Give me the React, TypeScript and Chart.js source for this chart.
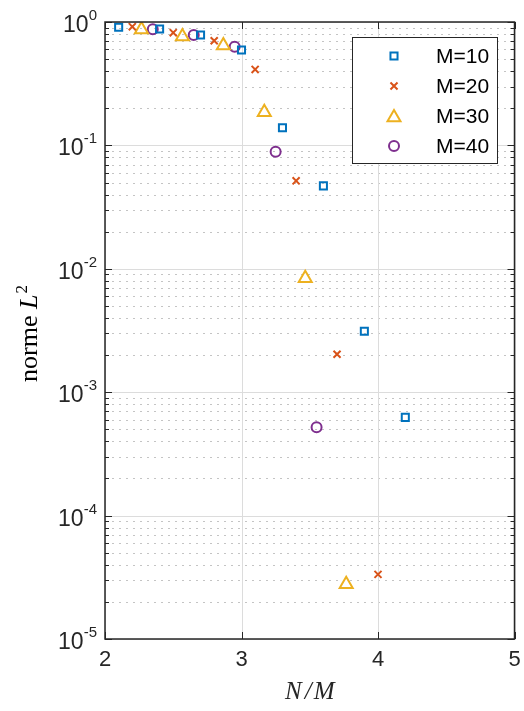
import React, { useEffect, useRef } from 'react';
import { Chart, registerables } from 'chart.js';

Chart.register(...registerables);

// N/M values and L2-norm errors for each M
const xM10 = [2.1, 2.4, 2.7, 3.0, 3.3, 3.6, 3.9, 4.2];
const yM10 = [0.906, 0.878, 0.785, 0.593, 0.139, 0.047, 0.00312, 0.000625];

const xM20 = [2.2, 2.5, 2.8, 3.1, 3.4, 3.7, 4.0];
const yM20 = [0.916, 0.819, 0.705, 0.413, 0.0516, 0.00203, 3.34e-5];

const xM30 = [2.267, 2.567, 2.867, 3.167, 3.467, 3.767];
const yM30 = [0.871, 0.764, 0.644, 0.186, 0.0084, 2.78e-5];

const xM40 = [2.35, 2.65, 2.95, 3.25, 3.55];
const yM40 = [0.873, 0.785, 0.63, 0.0888, 0.00052];

const seriesNames = ['M=10', 'M=20', 'M=30', 'M=40'];
const xTicks = [2, 3, 4, 5];
const yExponents = [0, -1, -2, -3, -4, -5];

const colors = ['#0072BD', '#D95319', '#EDB120', '#7E2F8E'];
const styles = ['rect', 'crossRot', 'triangle', 'circle'] as const;
const radii = [5, 5, 7.5, 5];

const AXIS_COLOR = '#262626';
const SANS = '"Liberation Sans", Arial, Helvetica, sans-serif';
const SERIF = '"Liberation Serif", "Times New Roman", serif';

function drawMarker(ctx: CanvasRenderingContext2D, style: string, x: number, y: number, r: number, color: string) {
  ctx.save();
  ctx.strokeStyle = color;
  ctx.lineWidth = 2;
  ctx.setLineDash([]);
  ctx.beginPath();
  if (style === 'rect') {
    const s = Math.SQRT1_2 * r;
    ctx.rect(x - s, y - s, 2 * s, 2 * s);
  } else if (style === 'crossRot') {
    const o = Math.SQRT1_2 * r;
    ctx.moveTo(x - o, y - o);
    ctx.lineTo(x + o, y + o);
    ctx.moveTo(x - o, y + o);
    ctx.lineTo(x + o, y - o);
  } else if (style === 'triangle') {
    const w = Math.sin(Math.PI * 2 / 3) * r;
    ctx.moveTo(x, y - r);
    ctx.lineTo(x + w, y + r / 2);
    ctx.lineTo(x - w, y + r / 2);
    ctx.closePath();
  } else {
    ctx.arc(x, y, r, 0, Math.PI * 2);
  }
  ctx.stroke();
  ctx.restore();
}

const axesPlugin = {
  id: 'matlabAxes',
  beforeDatasetsDraw(chart: any) {
    const { ctx, chartArea: a } = chart;
    const xs = chart.scales.x;
    const ys = chart.scales.y;
    ctx.save();
    // minor dotted grid
    ctx.strokeStyle = '#c4c4c4';
    ctx.lineWidth = 1;
    ctx.setLineDash([2, 5]);
    for (let e = -5; e < 0; e++) {
      for (let m = 2; m <= 9; m++) {
        const py = Math.round(ys.getPixelForValue(m * Math.pow(10, e))) + 0.5;
        ctx.beginPath();
        ctx.moveTo(a.left, py);
        ctx.lineTo(a.right, py);
        ctx.stroke();
      }
    }
    // major solid grid
    ctx.setLineDash([]);
    ctx.strokeStyle = '#dcdcdc';
    yExponents.forEach((e) => {
      const py = Math.round(ys.getPixelForValue(Math.pow(10, e))) + 0.5;
      ctx.beginPath();
      ctx.moveTo(a.left, py);
      ctx.lineTo(a.right, py);
      ctx.stroke();
    });
    xTicks.forEach((t) => {
      const px = Math.round(xs.getPixelForValue(t)) + 0.5;
      ctx.beginPath();
      ctx.moveTo(px, a.top);
      ctx.lineTo(px, a.bottom);
      ctx.stroke();
    });
    ctx.restore();
  },
  afterDraw(chart: any) {
    const { ctx, chartArea: a } = chart;
    const xs = chart.scales.x;
    const ys = chart.scales.y;
    ctx.save();
    ctx.setLineDash([]);
    ctx.strokeStyle = AXIS_COLOR;
    ctx.lineWidth = 1;

    // y ticks (inward, both sides)
    const tick = (py: number, len: number) => {
      ctx.beginPath();
      ctx.moveTo(a.left, py);
      ctx.lineTo(a.left + len, py);
      ctx.moveTo(a.right, py);
      ctx.lineTo(a.right - len, py);
      ctx.stroke();
    };
    for (let e = -5; e < 0; e++) {
      for (let m = 2; m <= 9; m++) {
        tick(Math.round(ys.getPixelForValue(m * Math.pow(10, e))) + 0.5, 4);
      }
    }
    yExponents.forEach((e) => tick(Math.round(ys.getPixelForValue(Math.pow(10, e))) + 0.5, 7));
    // x ticks
    xTicks.forEach((t) => {
      const px = Math.round(xs.getPixelForValue(t)) + 0.5;
      ctx.beginPath();
      ctx.moveTo(px, a.bottom);
      ctx.lineTo(px, a.bottom - 7);
      ctx.moveTo(px, a.top);
      ctx.lineTo(px, a.top + 7);
      ctx.stroke();
    });

    // box
    ctx.lineWidth = 1.5;
    ctx.strokeRect(a.left, a.top, a.right - a.left, a.bottom - a.top);

    // y tick labels: 10^e
    ctx.fillStyle = AXIS_COLOR;
    ctx.textBaseline = 'alphabetic';
    yExponents.forEach((e) => {
      const py = ys.getPixelForValue(Math.pow(10, e));
      const base = '10';
      const sup = String(e);
      ctx.font = `15px ${SANS}`;
      const wSup = ctx.measureText(sup).width;
      ctx.font = `23px ${SANS}`;
      const wBase = ctx.measureText(base).width;
      const right = a.left - 8;
      ctx.textAlign = 'left';
      ctx.fillText(base, right - wSup - wBase, py + 10);
      ctx.font = `15px ${SANS}`;
      ctx.fillText(sup, right - wSup, py - 2);
    });

    // x tick labels
    ctx.font = `22px ${SANS}`;
    ctx.textAlign = 'center';
    xTicks.forEach((t) => {
      ctx.fillText(String(t), xs.getPixelForValue(t), a.bottom + 27);
    });

    // x axis title: N/M
    ctx.font = `italic 25px ${SERIF}`;
    ctx.textAlign = 'left';
    const partsX = ['N', '/', 'M'];
    const gaps = [3, 2];
    const widths = partsX.map((p) => ctx.measureText(p).width);
    const total = widths.reduce((s, w) => s + w, 0) + gaps[0] + gaps[1];
    let cx = (a.left + a.right) / 2 - total / 2;
    partsX.forEach((p, i) => {
      ctx.fillText(p, cx, a.bottom + 60);
      cx += widths[i] + (gaps[i] || 0);
    });

    // y axis title: norme L^2 (rotated)
    ctx.save();
    ctx.translate(37, (a.top + a.bottom) / 2 + 3);
    ctx.rotate(-Math.PI / 2);
    ctx.font = `26px ${SERIF}`;
    const w1 = ctx.measureText('norme ').width;
    ctx.font = `italic 26px ${SERIF}`;
    const w2 = ctx.measureText('L').width;
    ctx.font = `17px ${SERIF}`;
    const w3 = ctx.measureText('2').width;
    let lx = -(w1 + w2 + w3 + 1) / 2;
    ctx.fillStyle = '#000';
    ctx.font = `26px ${SERIF}`;
    ctx.fillText('norme ', lx, 0);
    lx += w1;
    ctx.font = `italic 26px ${SERIF}`;
    ctx.fillText('L', lx, 0);
    lx += w2 + 1;
    ctx.font = `17px ${SERIF}`;
    ctx.fillText('2', lx, -10);
    ctx.restore();

    // legend
    const lg = { x: 352, y: 37, w: 145, h: 126 };
    ctx.fillStyle = '#fff';
    ctx.fillRect(lg.x, lg.y, lg.w, lg.h);
    ctx.strokeStyle = AXIS_COLOR;
    ctx.lineWidth = 1;
    ctx.strokeRect(lg.x + 0.5, lg.y + 0.5, lg.w, lg.h);
    seriesNames.forEach((name, i) => {
      const cy = lg.y + 19 + i * 30;
      drawMarker(ctx, styles[i], lg.x + 42, cy + (styles[i] === 'triangle' ? 1.5 : 0), radii[i], colors[i]);
      ctx.fillStyle = '#000';
      ctx.font = `21px ${SANS}`;
      ctx.textAlign = 'left';
      ctx.textBaseline = 'middle';
      ctx.fillText(name, lg.x + 84, cy + 1);
    });
    ctx.restore();
  },
};

export default function App() {
  const ref = useRef<HTMLCanvasElement | null>(null);

  useEffect(() => {
    if (!ref.current) return;
    const series = [
      [xM10, yM10],
      [xM20, yM20],
      [xM30, yM30],
      [xM40, yM40],
    ];
    const chart = new Chart(ref.current, {
      type: 'scatter',
      data: {
        datasets: series.map(([xv, yv], i) => ({
          label: seriesNames[i],
          data: xv.map((x, j) => ({ x, y: yv[j] })),
          pointStyle: styles[i],
          pointRadius: radii[i],
          pointHoverRadius: radii[i],
          pointBorderWidth: 2,
          borderColor: colors[i],
          backgroundColor: 'rgba(0,0,0,0)',
          showLine: false,
        })),
      },
      options: {
        responsive: false,
        animation: false,
        devicePixelRatio: 1,
        layout: { padding: { left: 105, right: 8, top: 22, bottom: 72 } },
        plugins: { legend: { display: false }, tooltip: { enabled: false } },
        scales: {
          x: { type: 'linear', min: 2, max: 5, display: false },
          y: { type: 'logarithmic', min: 1e-5, max: 1, display: false },
        },
      },
      plugins: [axesPlugin],
    });
    return () => chart.destroy();
  }, []);

  return (
    <div style={{ position: 'fixed', left: 0, top: 0, width: 524, height: 711, background: '#fff' }}>
      <canvas ref={ref} width={524} height={711} style={{ display: 'block' }} />
    </div>
  );
}
